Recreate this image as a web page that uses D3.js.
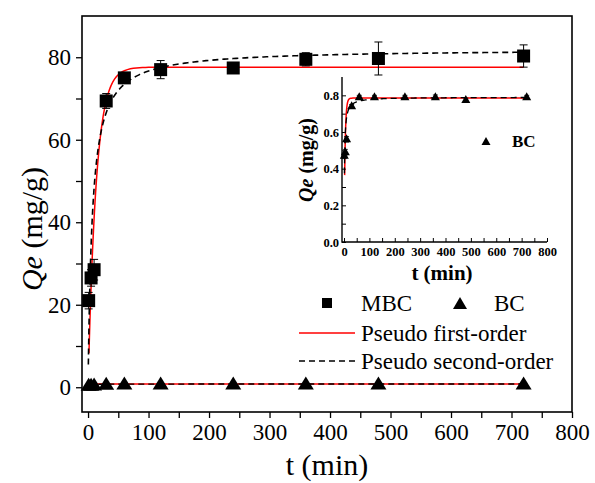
<!DOCTYPE html>
<html>
<head>
<meta charset="utf-8">
<script src="https://cdn.jsdelivr.net/npm/d3@7"></script>
<style>
  body { margin: 0; background: #fff; }
  svg text, svg tspan { font-family: "Liberation Serif", "Times New Roman", Tinos, serif !important; }
</style>
</head>
<body>
<svg width="595" height="483" font-family="Liberation Serif"></svg>
<script>
// contact times (min)
var times = [1, 5, 10, 30, 60, 120, 240, 360, 480, 720];
// MBC adsorption (mg/g) and error
var mbc = [21, 26.5, 28.5, 69.4, 75, 77, 77.4, 79.5, 79.7, 80.3];
var mbcErr = [2, 2, 2.5, 1.8, 1, 2.2, 0.5, 1.6, 4, 2.7];
// BC adsorption (mg/g) and error
var bc = [0.47, 0.49, 0.56, 0.74, 0.79, 0.79, 0.79, 0.79, 0.775, 0.79];
var bcErr = [0.015, 0.015, 0.015, 0.01, 0.01, 0.01, 0.01, 0.012, 0.01, 0.01];
var xTicks = [0, 100, 200, 300, 400, 500, 600, 700, 800];
var yTicks = [0, 20, 40, 60, 80];
var insetYTicks = [0, 0.2, 0.4, 0.6, 0.8];

// fitted kinetic models
var pfo = function(qe, k) { return function(t) { return qe * (1 - Math.exp(-k * t)); }; };
var pso = function(qe, k) { return function(t) { return qe * qe * k * t / (1 + qe * k * t); }; };
var mbcPfo = pfo(77.6, 0.075), mbcPso = pso(82, 0.00175);
var bcPfo = pfo(0.785, 0.25), bcPso = pso(0.79, 0.76);

var svg = d3.select("svg");

var x = d3.scaleLinear().domain([-10, 800]).range([82, 572]),
    y = d3.scaleLinear().domain([-6, 90]).range([412, 16]);

function curve(fn, t0, sx, sy) {
  var pts = [];
  for (var t = t0; t <= 720; t += (t < 60 ? 0.5 : 5)) pts.push([t, fn(t)]);
  return d3.line().x(function(d) { return sx(d[0]); }).y(function(d) { return sy(d[1]); })(pts);
}

function tri(cx, cy, w, h) {
  return "M" + cx + "," + (cy - h / 2) + "L" + (cx + w / 2) + "," + (cy + h / 2) + "L" + (cx - w / 2) + "," + (cy + h / 2) + "Z";
}

// axis helper: drop d3's default sans-serif font
function clean(g) {
  g.attr("font-family", null).attr("font-size", null);
  g.select(".domain").remove();
}

// ---- main axes ----
var main = svg.append("g");

main.append("g")
    .attr("transform", "translate(0,412)")
    .call(d3.axisBottom(x).tickValues(d3.range(0, 801, 50)).tickSize(6).tickFormat(""))
    .call(clean)
    .selectAll("line").attr("stroke-width", 1.3);
main.append("g")
    .attr("transform", "translate(0,412)")
    .call(d3.axisBottom(x).tickValues(xTicks).tickSize(0).tickPadding(12))
    .call(clean)
    .selectAll("text").attr("font-size", 23).attr("fill", "#000");

main.append("g")
    .attr("transform", "translate(82,0)")
    .call(d3.axisLeft(y).tickValues(d3.range(0, 90, 10)).tickSize(6).tickFormat(""))
    .call(clean)
    .selectAll("line").attr("stroke-width", 1.3);
main.append("g")
    .attr("transform", "translate(82,0)")
    .call(d3.axisLeft(y).tickValues(yTicks).tickSize(0).tickPadding(11))
    .call(clean)
    .selectAll("text").attr("font-size", 23).attr("fill", "#000");

main.append("rect")
    .attr("x", 82).attr("y", 16).attr("width", 490).attr("height", 396)
    .attr("fill", "none").attr("stroke", "#000").attr("stroke-width", 1.6);

// axis titles
var yt = main.append("text")
    .attr("transform", "translate(42,229) rotate(-90)")
    .attr("text-anchor", "middle").attr("font-size", 30);
yt.append("tspan").attr("font-style", "italic").text("Qe");
yt.append("tspan").text(" (mg/g)");
main.append("text")
    .attr("x", 327).attr("y", 475)
    .attr("text-anchor", "middle").attr("font-size", 30)
    .text("t (min)");

// curves
main.append("path").attr("d", curve(mbcPfo, 1.5, x, y))
    .attr("fill", "none").attr("stroke", "#f00").attr("stroke-width", 1.5);
main.append("path").attr("d", curve(mbcPso, 0.5, x, y))
    .attr("fill", "none").attr("stroke", "#000").attr("stroke-width", 1.6).attr("stroke-dasharray", "6,4");
main.append("path").attr("d", curve(bcPfo, 1, x, y))
    .attr("fill", "none").attr("stroke", "#f00").attr("stroke-width", 1.5);
main.append("path").attr("d", curve(bcPso, 1, x, y))
    .attr("fill", "none").attr("stroke", "#000").attr("stroke-width", 1.3).attr("stroke-dasharray", "6,4");

// MBC error bars + squares
var mbcData = times.map(function(t, i) { return {t: t, v: mbc[i], e: mbcErr[i]}; });
var eb = main.selectAll(".ebm").data(mbcData).enter().append("g").attr("class", "ebm");
eb.append("line")
    .attr("x1", function(d) { return x(d.t); }).attr("x2", function(d) { return x(d.t); })
    .attr("y1", function(d) { return y(d.v - d.e); }).attr("y2", function(d) { return y(d.v + d.e); })
    .attr("stroke", "#000").attr("stroke-width", 1);
eb.selectAll(".cap").data(function(d) { return [[d.t, d.v - d.e], [d.t, d.v + d.e]]; })
  .enter().append("line")
    .attr("x1", function(d) { return x(d[0]) - 4; }).attr("x2", function(d) { return x(d[0]) + 4; })
    .attr("y1", function(d) { return y(d[1]); }).attr("y2", function(d) { return y(d[1]); })
    .attr("stroke", "#000").attr("stroke-width", 1);
main.selectAll(".sq").data(mbcData).enter().append("rect")
    .attr("x", function(d) { return x(d.t) - 6.5; })
    .attr("y", function(d) { return y(d.v) - 6.5; })
    .attr("width", 13).attr("height", 13).attr("fill", "#000");

// BC triangles
var bcData = times.map(function(t, i) { return {t: t, v: bc[i], e: bcErr[i]}; });
main.selectAll(".trm").data(bcData).enter().append("path")
    .attr("d", function(d) { return tri(x(d.t), y(d.v) - 1, 16, 13); })
    .attr("fill", "#000");

// legend
var lg = main.append("g").attr("font-size", 23);
lg.append("rect").attr("x", 322).attr("y", 298).attr("width", 10).attr("height", 10).attr("fill", "#000");
lg.append("text").attr("x", 361).attr("y", 311).text("MBC");
lg.append("path").attr("d", tri(460, 303, 14, 12)).attr("fill", "#000");
lg.append("text").attr("x", 494).attr("y", 311).text("BC");
lg.append("line").attr("x1", 299).attr("x2", 355).attr("y1", 333).attr("y2", 333)
    .attr("stroke", "#f00").attr("stroke-width", 1.5);
lg.append("text").attr("x", 361).attr("y", 341).text("Pseudo first-order");
lg.append("line").attr("x1", 299).attr("x2", 355).attr("y1", 361).attr("y2", 361)
    .attr("stroke", "#000").attr("stroke-width", 1.5).attr("stroke-dasharray", "6,4");
lg.append("text").attr("x", 361).attr("y", 369).text("Pseudo second-order");

// ---- inset ----
var ix = d3.scaleLinear().domain([-8, 800]).range([342, 547]),
    iy = d3.scaleLinear().domain([0, 0.9]).range([242, 77]);
var inset = svg.append("g").attr("font-weight", "bold");

inset.append("g")
    .attr("transform", "translate(0,242)")
    .call(d3.axisTop(ix).tickValues(d3.range(0, 801, 50)).tickSize(4).tickFormat(""))
    .call(clean);
inset.append("g")
    .attr("transform", "translate(0,242)")
    .call(d3.axisBottom(ix).tickValues(xTicks).tickSize(0).tickPadding(5))
    .call(clean)
    .selectAll("text").attr("font-size", 12.5).attr("fill", "#000");
inset.append("g")
    .attr("transform", "translate(342,0)")
    .call(d3.axisRight(iy).tickValues(d3.range(0, 0.85, 0.1)).tickSize(4).tickFormat(""))
    .call(clean);
inset.append("g")
    .attr("transform", "translate(342,0)")
    .call(d3.axisLeft(iy).tickValues(insetYTicks).tickSize(0).tickPadding(3).tickFormat(d3.format(".1f")))
    .call(clean)
    .selectAll("text").attr("font-size", 12.5).attr("fill", "#000");
inset.append("path").attr("d", "M342,77V242H547")
    .attr("fill", "none").attr("stroke", "#000").attr("stroke-width", 1.4);

var iyt = inset.append("text")
    .attr("transform", "translate(313,160) rotate(-90)")
    .attr("text-anchor", "middle").attr("font-size", 20);
iyt.append("tspan").attr("font-style", "italic").text("Qe");
iyt.append("tspan").text(" (mg/g)");
inset.append("text")
    .attr("x", 442).attr("y", 280)
    .attr("text-anchor", "middle").attr("font-size", 21)
    .text("t (min)");

inset.append("path").attr("d", curve(bcPfo, 2.5, ix, iy))
    .attr("fill", "none").attr("stroke", "#f00").attr("stroke-width", 1.5);
inset.append("path").attr("d", curve(bcPso, 1.5, ix, iy))
    .attr("fill", "none").attr("stroke", "#000").attr("stroke-width", 1.3).attr("stroke-dasharray", "6,4");

var ieb = inset.selectAll(".ebi").data(bcData).enter().append("g").attr("class", "ebi");
ieb.append("line")
    .attr("x1", function(d) { return ix(d.t); }).attr("x2", function(d) { return ix(d.t); })
    .attr("y1", function(d) { return iy(d.v - d.e); }).attr("y2", function(d) { return iy(d.v + d.e); })
    .attr("stroke", "#000").attr("stroke-width", 0.8);
ieb.selectAll(".cap").data(function(d) { return [[d.t, d.v - d.e], [d.t, d.v + d.e]]; })
  .enter().append("line")
    .attr("x1", function(d) { return ix(d[0]) - 2.5; }).attr("x2", function(d) { return ix(d[0]) + 2.5; })
    .attr("y1", function(d) { return iy(d[1]); }).attr("y2", function(d) { return iy(d[1]); })
    .attr("stroke", "#000").attr("stroke-width", 0.8);
inset.selectAll(".tri").data(bcData).enter().append("path")
    .attr("d", function(d) { return tri(ix(d.t), iy(d.v) - 1, 9, 8); })
    .attr("fill", "#000");

inset.append("path").attr("d", tri(486, 141, 9, 8)).attr("fill", "#000");
inset.append("text").attr("x", 512).attr("y", 147).attr("font-size", 17).text("BC");
</script>
</body>
</html>
